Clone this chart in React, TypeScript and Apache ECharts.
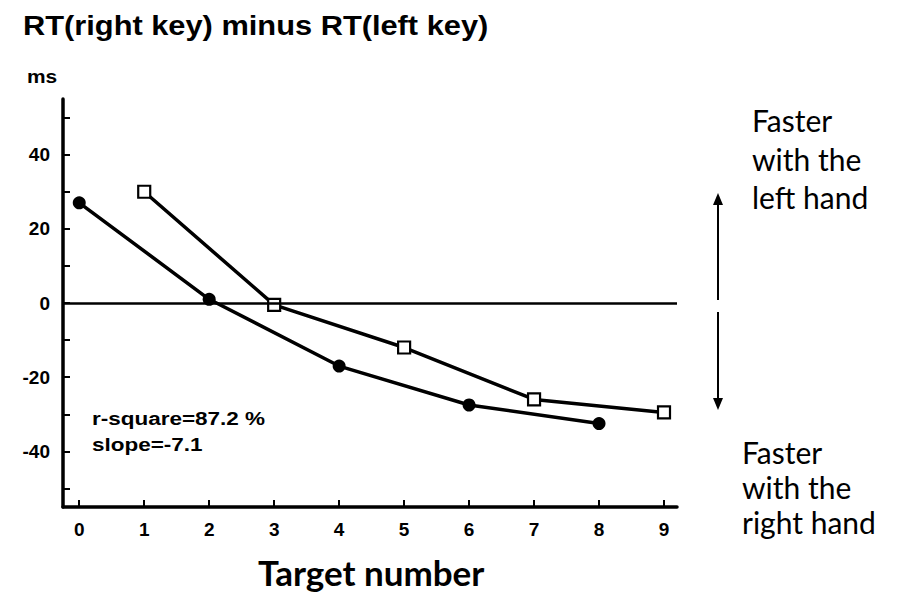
import React, { useEffect, useRef } from "react";
import * as echarts from "echarts";

const circleX = [0, 2, 4, 6, 8];
const circleY = [27, 1, -17, -27.5, -32.5];
const squareX = [1, 3, 5, 7, 9];
const squareY = [30, -0.5, -12, -26, -29.5];
const xTicks = [0, 1, 2, 3, 4, 5, 6, 7, 8, 9];
const yTicks = [-50, -40, -30, -20, -10, 0, 10, 20, 30, 40, 50];
const yLabels = [-40, -20, 0, 20, 40];

const titleText = "RT(right key) minus RT(left key)";
const unitText = "ms";
const rsqText = "r-square=87.2 %";
const slopeText = "slope=-7.1";
const xName = "Target number";
const topNote = ["Faster", "with the", "left hand"];
const bottomNote = ["Faster", "with the", "right hand"];

export default function App() {
  const ref = useRef<HTMLDivElement>(null);
  useEffect(() => {
    if (!ref.current) return;
    const chart = echarts.init(ref.current, null, { renderer: "svg" });
    const bold = "Liberation Sans";
    const noteFont = "Lato";
    const noteLine = (t: string, y: number, x: number) => ({
      type: "text",
      x,
      y,
      style: {
        text: t,
        x: 0,
        y: 0,
        fill: "#000",
        font: `30px ${noteFont}`,
        verticalAlign: "middle",
        align: "left",
      },
    });
    const option: any = {
      animation: false,
      backgroundColor: "#fff",
      grid: { left: 63, right: 233, top: 99, bottom: 88, containLabel: false },
      xAxis: {
        type: "value",
        min: -0.25,
        max: 9.2,
        splitLine: { show: false },
        axisLine: { show: true, onZero: false, lineStyle: { color: "#000", width: 3.5 } },
        axisTick: {
          show: true,
          inside: true,
          length: 7,
          customValues: xTicks,
          lineStyle: { color: "#000", width: 2 },
        },
        axisLabel: {
          customValues: xTicks,
          color: "#000",
          fontFamily: bold,
          fontWeight: "bold",
          fontSize: 19,
          margin: 13,
        },
      },
      yAxis: {
        type: "value",
        min: -55,
        max: 55,
        splitLine: { show: false },
        axisLine: { show: true, onZero: false, lineStyle: { color: "#000", width: 3.5 } },
        axisTick: {
          show: true,
          inside: true,
          length: 7,
          customValues: yTicks,
          lineStyle: { color: "#000", width: 2 },
        },
        axisLabel: {
          customValues: yLabels,
          color: "#000",
          fontFamily: bold,
          fontWeight: "bold",
          fontSize: 19,
          margin: 13,
        },
      },
      series: [
        {
          type: "line",
          data: circleX.map((x, i) => [x, circleY[i]]),
          symbol: "circle",
          symbolSize: 13,
          lineStyle: { color: "#000", width: 3.5 },
          itemStyle: { color: "#000" },
          z: 3,
          markLine: {
            silent: true,
            symbol: ["none", "none"],
            label: { show: false },
            lineStyle: { color: "#000", width: 2.5, type: "solid" },
            data: [{ yAxis: 0 }],
          },
        },
        {
          type: "line",
          data: squareX.map((x, i) => [x, squareY[i]]),
          symbol: "rect",
          symbolSize: 12,
          showAllSymbol: true,
          lineStyle: { color: "#000", width: 3.5 },
          itemStyle: { color: "#fff", borderColor: "#000", borderWidth: 2.2 },
          z: 4,
        },
      ],
      graphic: [
        {
          type: "text",
          x: 23,
          y: 11,
          scaleX: 1.1,
          style: {
            text: titleText,
            x: 0,
            y: 0,
            fill: "#000",
            font: `bold 28px ${bold}`,
            verticalAlign: "top",
          },
        },
        {
          type: "text",
          x: 27,
          y: 76,
          scaleX: 1.1,
          style: {
            text: unitText,
            x: 0,
            y: 0,
            fill: "#000",
            font: `bold 19px ${bold}`,
            verticalAlign: "middle",
          },
        },
        {
          type: "text",
          x: 92,
          y: 419,
          scaleX: 1.25,
          style: {
            text: rsqText,
            x: 0,
            y: 0,
            fill: "#000",
            font: `bold 18px ${bold}`,
            verticalAlign: "middle",
          },
        },
        {
          type: "text",
          x: 92,
          y: 445,
          scaleX: 1.25,
          style: {
            text: slopeText,
            x: 0,
            y: 0,
            fill: "#000",
            font: `bold 18px ${bold}`,
            verticalAlign: "middle",
          },
        },
        {
          type: "text",
          x: 258,
          y: 572,
          style: {
            text: xName,
            x: 0,
            y: 0,
            fill: "#000",
            font: `bold 35px ${noteFont}`,
            verticalAlign: "middle",
          },
        },
        noteLine(topNote[0], 120, 752),
        noteLine(topNote[1], 159, 752),
        noteLine(topNote[2], 197, 752),
        noteLine(bottomNote[0], 452, 742),
        noteLine(bottomNote[1], 487, 742),
        noteLine(bottomNote[2], 522, 742),
        {
          type: "line",
          shape: { x1: 718, y1: 203, x2: 718, y2: 300 },
          style: { stroke: "#000", lineWidth: 2 },
        },
        {
          type: "polygon",
          shape: { points: [[718, 193], [713, 205], [723, 205]] },
          style: { fill: "#000" },
        },
        {
          type: "line",
          shape: { x1: 718, y1: 312, x2: 718, y2: 400 },
          style: { stroke: "#000", lineWidth: 2 },
        },
        {
          type: "polygon",
          shape: { points: [[718, 410], [713, 398], [723, 398]] },
          style: { fill: "#000" },
        },
      ],
    };
    chart.setOption(option);
    return () => chart.dispose();
  }, []);
  return (
    <div
      ref={ref}
      style={{ position: "absolute", left: 0, top: 0, width: 910, height: 595 }}
    />
  );
}
